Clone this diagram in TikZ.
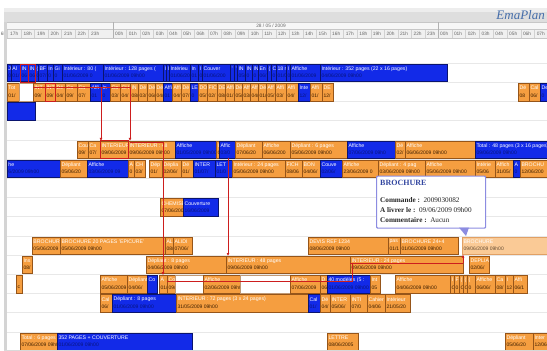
\documentclass[tikz,border=0pt]{standalone}
\usepackage{fontspec}
\setmainfont{Liberation Serif}
\setsansfont{Liberation Sans}
\usetikzlibrary{arrows.meta}
\definecolor{orf}{RGB}{245,158,64}
\definecolor{ord}{RGB}{150,85,25}
\definecolor{blf}{RGB}{18,42,232}
\definecolor{bld}{RGB}{10,20,110}
\definecolor{ltf}{RGB}{250,202,150}
\definecolor{ltd}{RGB}{225,160,100}
\definecolor{rdl}{RGB}{205,30,30}
\definecolor{tipb}{RGB}{140,140,225}
\definecolor{ttlc}{RGB}{50,70,160}
\definecolor{emac}{RGB}{70,110,170}
\definecolor{odt}{RGB}{60,30,0}
\definecolor{bdt}{RGB}{8,20,125}
\tikzset{
 ob/.style={fill=orf, draw=ord, line width=0.5pt, inner sep=0pt},
 bb/.style={fill=blf, draw=bld, line width=0.5pt, inner sep=0pt},
 lb/.style={fill=ltf, draw=ltd, line width=0.5pt, inner sep=0pt},
 wb/.style={fill=white, draw=ord!60, line width=0.5pt, inner sep=0pt},
 tfont/.style={inner sep=0pt, font=\sffamily\fontsize{5.2}{5.2}\selectfont},
 dfont/.style={inner sep=0pt, font=\sffamily\fontsize{5}{5}\selectfont},
 ttlob/.style={tfont, text=white},
 dteob/.style={dfont, text=odt},
 ttlbb/.style={tfont, text=white},
 dtebb/.style={dfont, text=bdt},
 ttllb/.style={tfont, text=white},
 dtelb/.style={dfont, text=odt!80},
 ttlwb/.style={tfont},
 dtewb/.style={dfont},
 hr/.style={anchor=west, inner sep=0pt, font=\sffamily\fontsize{4.8}{4.8}\selectfont, text=black!60},
 hsep/.style={draw=black!18, line width=0.4pt},
 rowl/.style={draw=black!9, line width=0.5pt},
 rline/.style={draw=rdl, line width=0.9pt},
 rarr/.style={draw=rdl, line width=0.9pt, -{Latex[length=3pt,width=3pt]}},
 rbox/.style={draw=rdl, line width=0.8pt},
 tip/.style={fill=white, draw=tipb, line width=1.2pt, rounded corners=1pt, inner sep=0pt},
 tiptxt/.style={anchor=west, inner sep=0pt, font=\fontsize{7.2}{7.2}\selectfont, text=black!85},
}
\newcommand\gb[7]{%
 \node[#2, anchor=north west, minimum width={#4-#3}, minimum height=17.4] (#1) at (#3,{64+19.2*#5}) {};
 \begin{scope}
 \clip (#3+0.5,{64+19.2*#5}) rectangle (#4-0.5,{81.4+19.2*#5});
 \node[ttl#2, anchor=west] (#1t) at (#3+1.3,{68.9+19.2*#5}) {#6};
 \node[dte#2, anchor=west] (#1d) at (#3+1.3,{76.2+19.2*#5}) {#7};
 \end{scope}}
\begin{document}
\begin{tikzpicture}[x=1pt,y=-1pt]
\useasboundingbox (0,0) rectangle (547,351);
\clip (0,0) rectangle (547,351);
\fill[white] (0,0) rectangle (547,351);
% header
\fill[black!13] (4,8) rectangle (547,22);
\fill[black!7] (4,8) rectangle (547,12);
\fill[black!3] (4,22) rectangle (547,29.5);
\fill[black!6] (4,29.5) rectangle (547,38);
\draw[black!22, line width=0.5pt] (4,22) -- (547,22) (4,29.5) -- (547,29.5) (4,38) -- (547,38);
\node[emac, font=\itshape\fontsize{13}{13}\selectfont, anchor=east, inner sep=0pt] (ema) at (545,15.5) {EmaPlan};
\node[inner sep=0pt, font=\sffamily\fontsize{4.8}{4.8}\selectfont, text=black!60] (dt) at (271,25.8) {28 / 05 / 2009};
\draw[black!30, line width=0.6pt] (113,22) -- (113,38) (438,22) -- (438,38);
\foreach \i in {0,...,6}{\draw[hsep] ({7.5+13.5*\i},29.5) -- ++(0,8.5);}
\foreach \i in {1,...,23}{\draw[hsep] ({113+13.565*\i},29.5) -- ++(0,8.5);}
\foreach \i in {1,...,7}{\draw[hsep] ({438+13.8*\i},29.5) -- ++(0,8.5);}
\node[hr, anchor=east] (hz) at (6.5,33.8) {6h};
\foreach \i in {0,...,6}{\pgfmathtruncatemacro\hh{17+\i}\node[hr] (ha\i) at ({10+13.5*\i},33.8) {\hh h};}
\foreach \i in {0,...,23}{\node[hr] (hb\i) at ({115+13.565*\i},33.8) {\ifnum\i<10 0\fi\i h};}
\foreach \i in {0,...,7}{\node[hr] (hc\i) at ({440+13.8*\i},33.8) {0\i h};}
% row lines
\foreach \k in {0,...,15}{\draw[rowl] (7,{63+19.2*\k}) -- (547,{63+19.2*\k});}
% row A
\gb{a1}{bb}{7}{11}{0}{J}{0}
\gb{a2}{bb}{11}{20}{0}{Al}{01/}
\gb{a3}{bb}{20}{28}{0}{IN}{06}
\gb{a4}{bb}{28}{35}{0}{IN}{06}
\gb{a5}{bb}{35}{38}{0}{(}{0}
\gb{a6}{bb}{38}{47}{0}{BF}{07/}
\gb{a7}{bb}{47}{53}{0}{In}{0}
\gb{a8}{bb}{53}{62}{0}{Gi}{0}
\gb{a9}{bb}{62}{103}{0}{Intérieur : 80 (}{01/06/2009 0}
\gb{a10}{bb}{103}{163}{0}{Intérieur : 128 pages (}{01/06/2009 09h00}
\gb{a11}{bb}{163}{166}{0}{I}{}
\gb{a12}{bb}{166}{169}{0}{I}{}
\gb{a13}{bb}{169}{190}{0}{Intérieu}{01/06/20}
\gb{a14}{bb}{190}{198}{0}{In}{01}
\gb{a15}{bb}{198}{202}{0}{I}{0}
\gb{a16}{bb}{202}{230}{0}{Couver}{01/06/200}
\gb{a17}{bb}{230}{234}{0}{'}{}
\gb{a18}{bb}{234}{237}{0}{'}{}
\gb{a19}{bb}{237}{245}{0}{IN}{05/}
\gb{a20}{bb}{245}{252}{0}{IN}{0}
\gb{a21}{bb}{252}{258}{0}{IN}{0}
\gb{a22}{bb}{258}{267}{0}{En}{06/}
\gb{a23}{bb}{267}{271}{0}{(}{}
\gb{a24}{bb}{271}{276}{0}{C}{0}
\gb{a25}{bb}{276}{286}{0}{18 r}{01/0}
\gb{a26}{bb}{286}{290}{0}{I}{0}
\gb{a27}{bb}{290}{320}{0}{Affiche}{01/06/2009}
\gb{a28}{bb}{320}{447}{0}{Intérieur : 352 pages (22 x 16 pages)}{04/06/2009 09h00}
% row B
\gb{b1}{ob}{7}{19}{1}{Tot}{01/}
\gb{b2}{wb}{19}{33}{1}{}{}
\gb{b3}{ob}{33}{45}{1}{INT}{09/}
\gb{b4}{ob}{45}{55}{1}{INT}{09/}
\gb{b5}{ob}{55}{65}{1}{Dé}{04/}
\gb{b6}{ob}{65}{77}{1}{Co}{09/}
\gb{b7}{ob}{77}{90}{1}{Ca}{07/}
\gb{b8}{bb}{90}{101}{1}{Affi}{01}
\gb{b9}{bb}{101}{110}{1}{In}{0}
\gb{b10}{ob}{110}{120}{1}{Co}{03/}
\gb{b11}{ob}{120}{130}{1}{CH}{04/}
\gb{b12}{ob}{130}{138}{1}{IN}{08/}
\gb{b13}{ob}{138}{147}{1}{Dé}{03/}
\gb{b14}{ob}{147}{155}{1}{Dé}{06/}
\gb{b15}{ob}{155}{163}{1}{Dé}{04/}
\gb{b16}{bb}{163}{172}{1}{Affi}{01}
\gb{b17}{ob}{172}{181}{1}{Affi}{04/}
\gb{b18}{ob}{181}{190}{1}{Dé}{07/}
\gb{b19}{bb}{190}{198}{1}{LE}{0}
\gb{b20}{ob}{198}{207}{1}{DO}{05/}
\gb{b21}{ob}{207}{217}{1}{FIC}{02/}
\gb{b22}{ob}{217}{225}{1}{DE}{08/}
\gb{b23}{ob}{225}{234}{1}{Affi}{01/}
\gb{b24}{ob}{234}{242}{1}{Dé}{05/}
\gb{b25}{ob}{242}{250}{1}{Affi}{03/}
\gb{b26}{ob}{250}{258}{1}{Affi}{04/}
\gb{b27}{ob}{258}{266}{1}{Dé}{01/}
\gb{b28}{ob}{266}{275}{1}{Aff}{05/}
\gb{b29}{ob}{275}{286}{1}{Affi}{03/}
\gb{b30}{ob}{286}{298}{1}{Affi}{04/}
\gb{b31}{bb}{298}{310}{1}{Inte}{12/}
\gb{b32}{ob}{310}{322}{1}{Affi}{01/}
\gb{b33}{ob}{322}{333}{1}{DE}{12/}
\gb{b34}{ob}{518}{529}{1}{Dé}{08}
\gb{b35}{ob}{529}{540}{1}{Cal}{06/}
\gb{b36}{bb}{540}{547}{1}{De}{0}
% row C
\gb{c1}{bb}{7}{35}{2}{}{}
% row E
\gb{e1}{ob}{77}{88}{4}{Cou}{09/}
\gb{e2}{ob}{88}{100}{4}{Ca}{07/}
\gb{e3}{ob}{100}{128}{4}{INTERIEUR}{09/06/2009}
\gb{e4}{ob}{128}{175}{4}{INTERIEUR : 48}{09/06/2009 09h00}
\gb{e5}{bb}{175}{216}{4}{Affiche}{01/05/2009 09h00}
\gb{e6}{ob}{216}{219}{4}{I}{C}
\gb{e7}{bb}{219}{235}{4}{Affic}{03/0}
\gb{e8}{ob}{235}{262}{4}{Dépliant}{07/06/20}
\gb{e9}{ob}{262}{290}{4}{Affiche}{06/06/200}
\gb{e10}{ob}{290}{347}{4}{Dépliant : 6 pages}{05/06/2009 09h00}
\gb{e11}{bb}{347}{395}{4}{Affiche}{07/06/2009 09h0}
\gb{e12}{ob}{395}{405}{4}{Dé}{02/}
\gb{e13}{ob}{405}{475}{4}{Affiche}{06/06/2009 09h00}
\gb{e14}{bb}{475}{547}{4}{Total : 48 pages (3 x 16 pages)}{09/06/2009 09h00}
% row F
\gb{f1}{bb}{7}{60}{5}{he}{6/2009 09h00}
\gb{f2}{ob}{60}{87}{5}{Dépliant}{05/06/20}
\gb{f3}{bb}{87}{128}{5}{Affiche}{03/06/2009 09}
\gb{f4}{ob}{128}{134}{5}{A}{0}
\gb{f5}{ob}{134}{145}{5}{CH}{03/}
\gb{f6}{ob}{149}{162}{5}{Dép}{01/}
\gb{f7}{ob}{162}{181}{5}{Déplia}{02/06/}
\gb{f8}{ob}{181}{193}{5}{Dé}{01/}
\gb{f9}{bb}{193}{215}{5}{INTER}{01/07/}
\gb{f10}{bb}{215}{232}{5}{LET}{01/0}
\gb{f11}{ob}{232}{285}{5}{Intérieur : 24 pages}{05/06/2009 09h00}
\gb{f12}{ob}{285}{302}{5}{FICH}{08/06}
\gb{f13}{ob}{302}{320}{5}{BON}{04/06/}
\gb{f14}{bb}{320}{342}{5}{Couve}{02/06/}
\gb{f15}{ob}{342}{378}{5}{Affiche}{23/06/2009 0}
\gb{f16}{ob}{378}{425}{5}{Dépliant : 4 pag}{03/06/2009 09h00}
\gb{f17}{ob}{425}{475}{5}{Affiche}{05/06/2009 09h00}
\gb{f18}{ob}{475}{495}{5}{Intérie}{05/06}
\gb{f19}{ob}{495}{513}{5}{Affich}{31/05/}
\gb{f20}{bb}{513}{520}{5}{A}{0}
\gb{f21}{ob}{520}{547}{5}{BROCHU}{12/06/200}
% row H
\gb{h1}{ob}{160}{183}{7}{CHEMISE}{07/06/2009}
\gb{h2}{bb}{183}{218}{7}{Couverture}{16/06/2009}
% row J
\gb{j1}{ob}{32}{60}{9}{BROCHURE}{05/06/2009}
\gb{j2}{ob}{60}{165}{9}{BROCHURE 20 PAGES 'EPICURE'}{05/06/2009 09h00}
\gb{j3}{ob}{165}{173}{9}{AL}{08/}
\gb{j4}{ob}{173}{192}{9}{ALIDI}{07/06/}
\gb{j5}{ob}{308}{388}{9}{DEVIS REF 1234}{08/06/2009 09h00}
\gb{j6}{ob}{388}{400}{9}{pas}{01/1}
\gb{j7}{ob}{400}{458}{9}{BROCHURE 24+4}{01/06/2009 09h00}
\gb{j8}{lb}{462}{547}{9}{BROCHURE}{09/06/2009 09h00}
% row K
\gb{k1}{ob}{22}{32}{10}{Ins}{08/}
\gb{k2}{ob}{146}{226}{10}{Dépliant : 8 pages}{04/06/2009 09h00}
\gb{k3}{ob}{226}{350}{10}{INTERIEUR : 48 pages}{09/06/2009 09h00}
\gb{k4}{ob}{350}{463}{10}{INTERIEUR : 24 pages}{09/06/2009 09h00}
\gb{k5}{ob}{469}{489}{10}{DEPLIANT}{02/06/}
% row L
\gb{l1}{ob}{16}{22}{11}{}{c}
\gb{l2}{ob}{100}{127}{11}{Affiche}{05/06/2009}
\gb{l3}{ob}{127}{147}{11}{Dépliant}{04/06/}
\gb{l4}{bb}{147}{157}{11}{Co}{}
\gb{l5}{ob}{159}{167}{11}{A}{01/}
\gb{l6}{ob}{167}{175}{11}{Co}{09/}
\gb{l7}{wb}{175}{203}{11}{}{}
\gb{l8}{ob}{203}{240}{11}{Affiche}{02/06/2009 09h00}
\gb{l9}{wb}{240}{290}{11}{}{}
\gb{l10}{ob}{290}{320}{11}{Affiche}{07/06/2009}
\gb{l11}{ob}{320}{327}{11}{D}{06}
\gb{l12}{bb}{327}{370}{11}{40 modèles (5 :}{01/06/2009 09h00}
\gb{l13}{ob}{370}{380}{11}{Int}{05}
\gb{l14}{ob}{395}{450}{11}{Affiche}{04/06/2009 09h00}
\gb{l15}{ob}{450}{454}{11}{I}{C}
\gb{l16}{ob}{454}{459}{11}{F}{0}
\gb{l17}{ob}{459}{463}{11}{(}{C}
\gb{l18}{ob}{463}{467}{11}{(}{C}
\gb{l19}{ob}{467}{475}{11}{(}{0}
\gb{l20}{ob}{475}{495}{11}{Affiche}{06/06/}
\gb{l21}{ob}{495}{505}{11}{Ca}{08/}
\gb{l22}{ob}{505}{513}{11}{I}{12}
\gb{l23}{ob}{513}{527}{11}{Affi}{06/1}
% row M
\gb{m1}{ob}{100}{112}{12}{Cal}{06/}
\gb{m2}{bb}{112}{176}{12}{Dépliant : 8 pages}{01/06/2009 09h00}
\gb{m3}{ob}{176}{308}{12}{INTERIEUR : 72 pages (3 x 24 pages)}{31/05/2009 09h00}
\gb{m4}{bb}{308}{320}{12}{Cal}{01/}
\gb{m5}{ob}{320}{330}{12}{Dé}{04/}
\gb{m6}{ob}{330}{350}{12}{INTER}{05/06/}
\gb{m7}{ob}{350}{367}{12}{INTI}{07/0}
\gb{m8}{ob}{367}{385}{12}{Cahier}{04/06}
\gb{m9}{ob}{385}{410}{12}{Intérieur}{21/05/20}
% row O
\gb{o1}{ob}{20}{57}{14}{Total : 6 pages}{07/06/2009 09h00}
\gb{o2}{bb}{57}{192}{14}{352 PAGES + COUVERTURE}{01/06/2009 09h00}
\gb{o3}{ob}{327}{358}{14}{LETTRE}{08/06/2005}
\gb{o4}{ob}{505}{533}{14}{Dépliant}{05/06/20}
\gb{o5}{ob}{533}{547}{14}{Inter}{12/06/}
% red highlights and links
\draw[rbox] (a3.north west) rectangle (a4.south east);
\draw[rbox] (a3.north east) -- (a3.south east);
\draw[rbox] (b4.north west) rectangle (b4.south east);
\draw[rbox] (e3.north west) rectangle (e3.south east);
\coordinate (rb1) at (33,87.5);
\coordinate (rb2) at (131,87.5);
\draw[rline] (rb1) -- (rb2);
\draw[rarr] (b9.west |- rb1) -- (b9.west |- e3.north);
\draw[rarr] (b12.west |- rb1) -- (b12.west |- e4.north);
\coordinate (re1) at (130,142);
\coordinate (re2) at (163,142);
\draw[rline] (re1) -- (re2);
\draw[rarr] (re2) -- (re2 |- l5.north);
\coordinate (re3) at (228,158);
\draw[rarr] (re3) -- (re3 |- k3.north);
\coordinate (rl1) at (167,281.5);
\coordinate (rl2) at (352,281.5);
\coordinate (rk1) at (352,263);
\coordinate (rk2) at (463,263);
\draw[rline] (rl1) -- (rl2) -- (rk1);
\draw[rline] (k4.west |- rk1) -- (rk2);
\draw[rarr] (rk2) -- (rk2 |- j8.south);
% left frame and bottom line
\fill[black!17] (4,22) rectangle (7,351);
\draw[black!15, line width=0.6pt] (4,350.5) -- (547,350.5);
% tooltip
\node[tip, anchor=north west, minimum width=109, minimum height=52] (tt) at (376,175.5) {};
\fill[tipb] (459,227.5) -- (469,227.5) -- (466,236) -- cycle;
\node[anchor=west, inner sep=0pt, font=\bfseries\fontsize{8}{8}\selectfont, text=ttlc] (tt1) at (380,183) {BROCHURE};
\node[tiptxt] (tt2) at (380,200.5) {\textbf{Commande :}\ \ 2009030082};
\node[tiptxt] (tt3) at (380,210.5) {\textbf{A livrer le :}\ \ 09/06/2009 09h00};
\node[tiptxt] (tt4) at (380,220.5) {\textbf{Commentaire :}\ \ Aucun};
\end{tikzpicture}
\end{document}
